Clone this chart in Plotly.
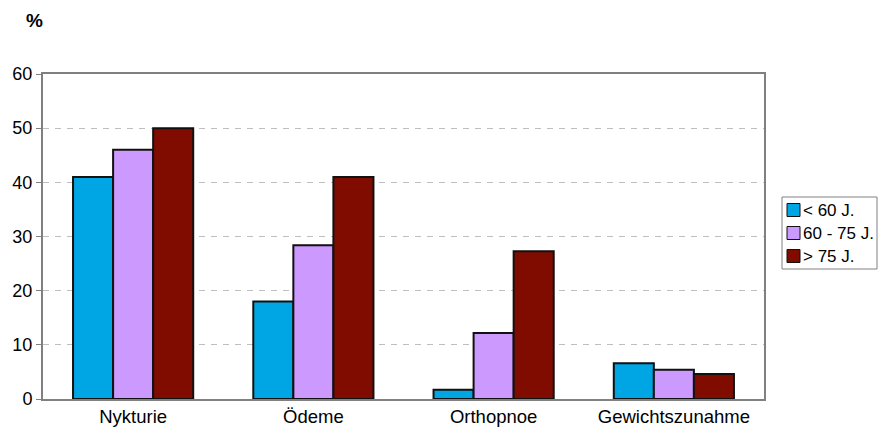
import plotly.graph_objects as go

categories = ["Nykturie", "Ödeme", "Orthopnoe", "Gewichtszunahme"]
series_names = ["< 60 J.", "60 - 75 J.", "> 75 J."]
values_lt60 = [41.0, 18.0, 1.7, 6.6]
values_60_75 = [46.0, 28.4, 12.2, 5.4]
values_gt75 = [50.0, 41.0, 27.3, 4.6]
colors = ["#00A6E3", "#CC99FF", "#800C00"]
y_ticks = [0, 10, 20, 30, 40, 50, 60]

W, H = 878, 430
ML, MR, MT, MB = 43, 114, 74, 31
PW, PH = W - ML - MR, H - MT - MB


def px_x(px):
    return (px - ML) / PW


def px_y(py):
    return (H - MB - py) / PH


fig = go.Figure()
for name, vals, col in zip(series_names, [values_lt60, values_60_75, values_gt75], colors):
    fig.add_trace(go.Bar(
        x=categories, y=vals, name=name, showlegend=False,
        marker=dict(color=col, line=dict(color="#111111", width=2)),
    ))

# legend box (drawn in paper space)
shapes = [dict(type="rect", xref="paper", yref="paper",
               x0=px_x(782), x1=px_x(877), y0=px_y(269), y1=px_y(197),
               line=dict(color="#808080", width=1), fillcolor="white", layer="above")]
annotations = [dict(
    text="<b>%</b>", xref="paper", yref="paper", x=-0.012, y=1.166,
    xanchor="center", yanchor="middle", showarrow=False, font=dict(size=19),
)]
for i, (name, col) in enumerate(zip(series_names, colors)):
    cy = 210 + 23 * i
    shapes.append(dict(type="rect", xref="paper", yref="paper",
                       x0=px_x(787), x1=px_x(800), y0=px_y(cy + 6.5), y1=px_y(cy - 6.5),
                       line=dict(color="#111111", width=1), fillcolor=col, layer="above"))
    annotations.append(dict(text=name, xref="paper", yref="paper",
                            x=px_x(801), y=px_y(cy), xanchor="left", yanchor="middle",
                            showarrow=False, font=dict(size=17)))

fig.update_layout(
    width=W, height=H,
    margin=dict(l=ML, r=MR, t=MT, b=MB, autoexpand=False),
    paper_bgcolor="white", plot_bgcolor="white",
    barmode="group", bargap=1/3, bargroupgap=0,
    font=dict(family="Liberation Sans, Arial, sans-serif", size=18, color="#000000"),
    showlegend=False,
    shapes=shapes,
    annotations=annotations,
)
fig.update_xaxes(
    showline=True, linecolor="#808080", linewidth=2, mirror=True,
    ticks="", showgrid=False, tickfont=dict(size=18.5),
)
fig.update_yaxes(
    range=[0, 60], tickvals=y_ticks, showline=True, linecolor="#808080", linewidth=2,
    mirror=True, ticks="outside", ticklen=5, tickcolor="#808080",
    showgrid=True, gridcolor="#BFBFBF", griddash="6px,6px", gridwidth=1, zeroline=False,
)

fig.write_html("out.html")
